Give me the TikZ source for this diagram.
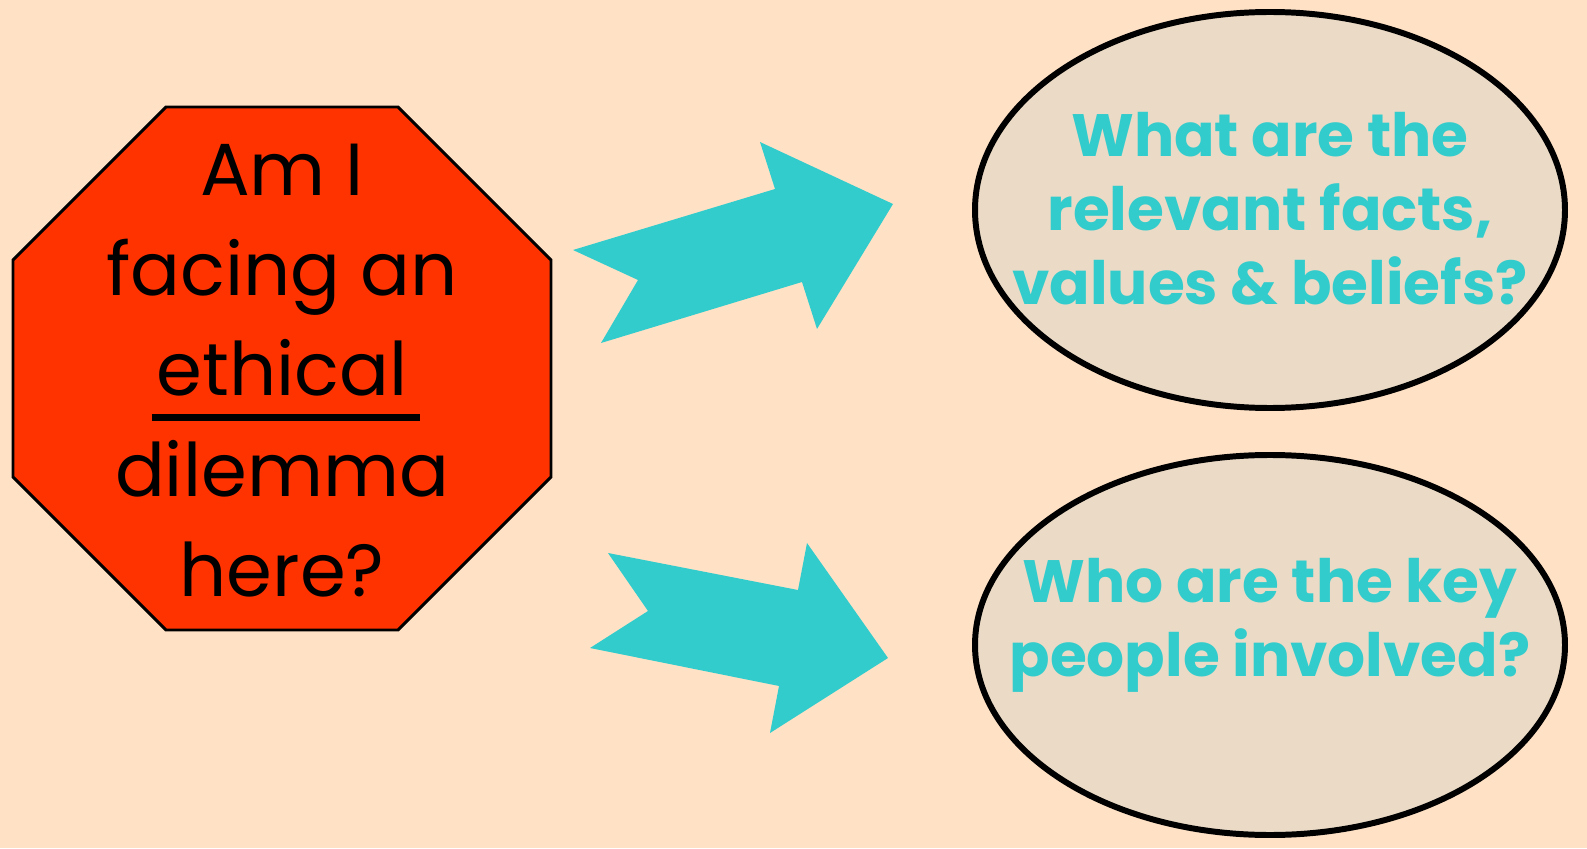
\documentclass[tikz,border=0pt]{standalone}
\usepackage{fontspec}
\setmainfont{Poppins}
\newcommand\thickul[1]{\setbox0\hbox{#1}\rlap{\kern-0.1cm\rule[-0.5cm]{\dimexpr\wd0+0.35cm\relax}{4pt}}\box0}
\definecolor{peach}{HTML}{FFE2C6}
\definecolor{stopred}{HTML}{FF3300}
\definecolor{teal}{HTML}{33CCCC}
\definecolor{sand}{HTML}{EBDBC6}

\begin{document}
\begin{tikzpicture}
    \tikzset{
      bubble/.style={draw=black, line width=3.4pt, fill=sand},
      bubbletext/.style={text=teal, font=\fontsize{34}{42}\selectfont\bfseries, align=center},
      blockarrow/.style={fill=teal, draw=none}
    }
    \useasboundingbox (0,0) rectangle (31.74,16.96);
    % background
    \fill[peach] (0,0) rectangle (31.74,16.96);
    % stop sign
    \draw[fill=stopred, line width=1.7pt] (3.32,14.82) -- (7.96,14.82) -- (11.02,11.76) -- (11.02,7.42)
      -- (7.96,4.36) -- (3.32,4.36) -- (0.26,7.42) -- (0.26,11.76) -- cycle;
    \node[align=center, font=\fontsize{42}{57}\selectfont] (stop) at (5.64,9.55)
      {Am I\\facing an\\\thickul{ethical}\\dilemma\\here?};
    % arrows
    \fill[blockarrow] (11.46,11.96) -- (12.76,11.36) -- (12.02,10.10) -- (16.04,11.32) -- (16.34,10.38)
      -- (17.86,12.88) -- (15.20,14.12) -- (15.50,13.18) -- cycle;
    \fill[blockarrow] (12.16,5.90) -- (12.96,4.74) -- (11.80,4.00) -- (15.58,3.24) -- (15.40,2.30)
      -- (17.76,3.80) -- (16.14,6.10) -- (15.96,5.16) -- cycle;
    % questions
    \draw[bubble] (25.4,12.76) ellipse (5.9 and 3.96);
    \draw[bubble] (25.4,4.06) ellipse (5.9 and 3.8);
    \node[bubbletext] (facts) at (25.4,12.78) {What are the\\relevant facts,\\values \& beliefs?};
    \node[bubbletext] (people) at (25.4,4.45) {Who are the key\\people involved?};
\end{tikzpicture}
\end{document}
